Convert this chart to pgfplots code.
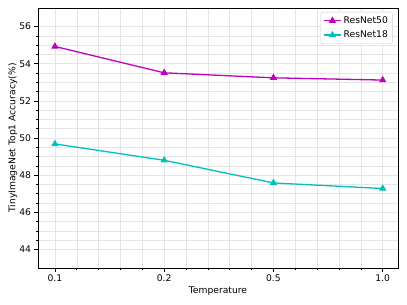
\documentclass[border=0pt]{standalone}
\usepackage{pgfplots}
\pgfplotsset{compat=1.18}
\usepackage{fontspec}
\setmainfont{DejaVu Sans}
\definecolor{mpm}{rgb}{0.75,0,0.75}
\definecolor{mpc}{rgb}{0,0.75,0.75}
\begin{document}
\begin{tikzpicture}
\begin{axis}[
  scale only axis,
  width=360pt, height=260pt,
  xmin=-0.155, xmax=3.14,
  ymin=43, ymax=57,
  xtick={0,1,2,3},
  xticklabels={0.1,0.2,0.5,1.0},
  minor x tick num=4,
  ytick={44,46,48,50,52,54,56},
  minor y tick num=3,
  grid=both,
  major grid style={gray!20, line width=0.5pt},
  minor grid style={gray!20, line width=0.5pt},
  tick align=outside,
  tick pos=left,
  major tick length=3.5pt,
  minor tick length=2pt,
  every tick/.style={black, line width=0.6pt},
  axis line style={black, line width=0.9pt},
  /pgf/number format/assume math mode=true,
  /pgf/number format/fixed,
  ticklabel style={font=\fontsize{9.2}{11}\selectfont},
  label style={font=\fontsize{9.2}{11}\selectfont},
  xlabel={Temperature},
  ylabel={TinyImageNet Top1 Accuracy(\%)},
  xlabel style={yshift=2pt},
  ylabel style={yshift=-5pt},
  legend style={font=\fontsize{9.2}{11}\selectfont, draw=gray!40, rounded corners=2pt, row sep=2pt, inner sep=2.5pt, at={(0.985,0.985)}, anchor=north east},
  legend cell align=left,
]
\addplot[mpm, line width=1.3pt, mark=triangle*, mark size=3pt] coordinates {(0,54.93) (1,53.51) (2,53.24) (3,53.12)};
\addlegendentry{ResNet50}
\addplot[mpc, line width=1.3pt, mark=triangle*, mark size=3pt] coordinates {(0,49.68) (1,48.8) (2,47.58) (3,47.28)};
\addlegendentry{ResNet18}
\end{axis}
\path ([xshift=-38pt,yshift=-37pt]current axis.south west) rectangle ([xshift=9pt,yshift=8pt]current axis.north east);
\end{tikzpicture}
\end{document}
